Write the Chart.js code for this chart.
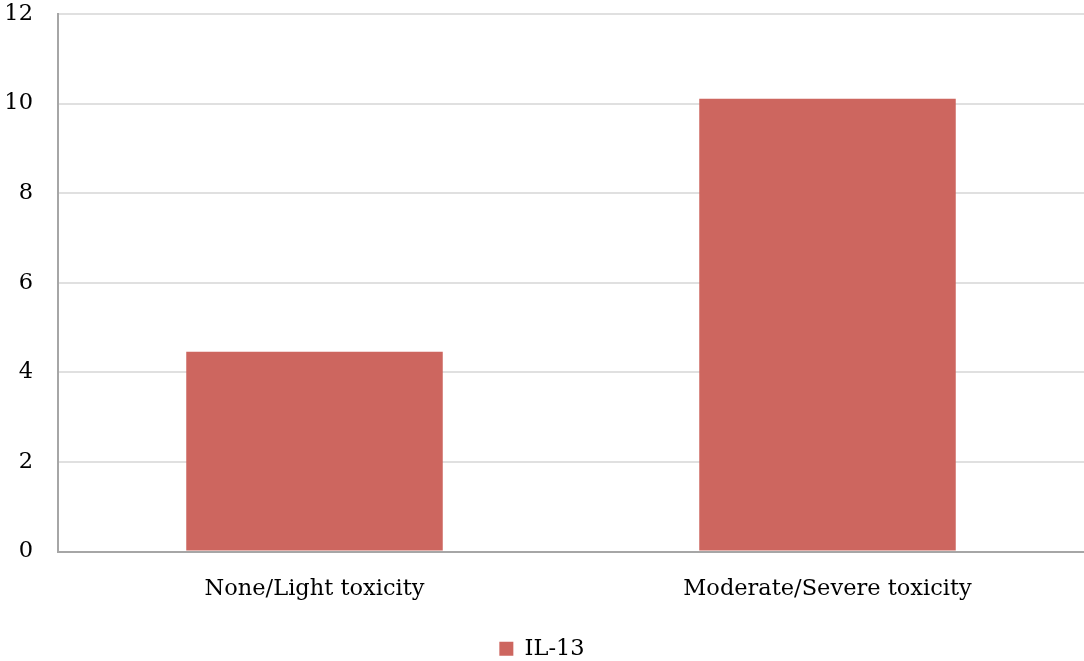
<!DOCTYPE html>
<html>
<head>
<meta charset="utf-8">
<script src="https://cdn.jsdelivr.net/npm/chart.js@4"></script>
<style>
  html, body { margin: 0; padding: 0; background: #fff; }
  #wrap { width: 1084px; height: 661px; }
</style>
</head>
<body>
<div id="wrap"><canvas id="chart"></canvas></div>
<script>
const categories = ["None/Light toxicity", "Moderate/Severe toxicity"];
const seriesName = "IL-13";
const il13Values = [4.46, 10.11];
const yTicks = [0, 2, 4, 6, 8, 10, 12];

const barColor = "#CD665F";
const fontFamily = "'DejaVu Serif', 'Liberation Serif', serif";
const fontSize = 22.5;

// nudge the legend a little closer to the bottom edge
const legendShift = {
  id: "legendShift",
  afterLayout(chart) {
    if (chart.legend) {
      chart.legend.top += 9;
      chart.legend.bottom += 9;
    }
  }
};

const ctx = document.getElementById("chart").getContext("2d");
new Chart(ctx, {
  type: "bar",
  data: {
    labels: categories,
    datasets: [{
      label: seriesName,
      data: il13Values,
      backgroundColor: barColor,
      borderWidth: 0,
      categoryPercentage: 1.0,
      barPercentage: 0.5
    }]
  },
  options: {
    responsive: true,
    maintainAspectRatio: false,
    animation: false,
    layout: { padding: { top: 14, right: 0, left: 0, bottom: 0 } },
    scales: {
      x: {
        grid: { display: false, drawTicks: false },
        border: { color: "#a6a6a6", width: 2 },
        ticks: { color: "#000", font: { family: fontFamily, size: fontSize }, padding: 24 }
      },
      y: {
        min: yTicks[0],
        max: yTicks[yTicks.length - 1],
        afterBuildTicks: scale => { scale.ticks = yTicks.map(v => ({ value: v })); },
        afterFit: scale => {
          scale.width = 58;
          scale.paddingTop = 0;
          scale.paddingBottom = 0;
        },
        grid: { color: "#e0e0e0", lineWidth: 2, drawTicks: false },
        border: { color: "#a6a6a6", width: 2 },
        ticks: { color: "#000", font: { family: fontFamily, size: fontSize }, padding: 25 }
      }
    },
    plugins: {
      legend: {
        position: "bottom",
        labels: {
          color: "#000",
          font: { family: fontFamily, size: fontSize },
          boxWidth: 14,
          boxHeight: 14,
          padding: 2
        }
      },
      tooltip: { enabled: false }
    }
  },
  plugins: [legendShift]
});
</script>
</body>
</html>
